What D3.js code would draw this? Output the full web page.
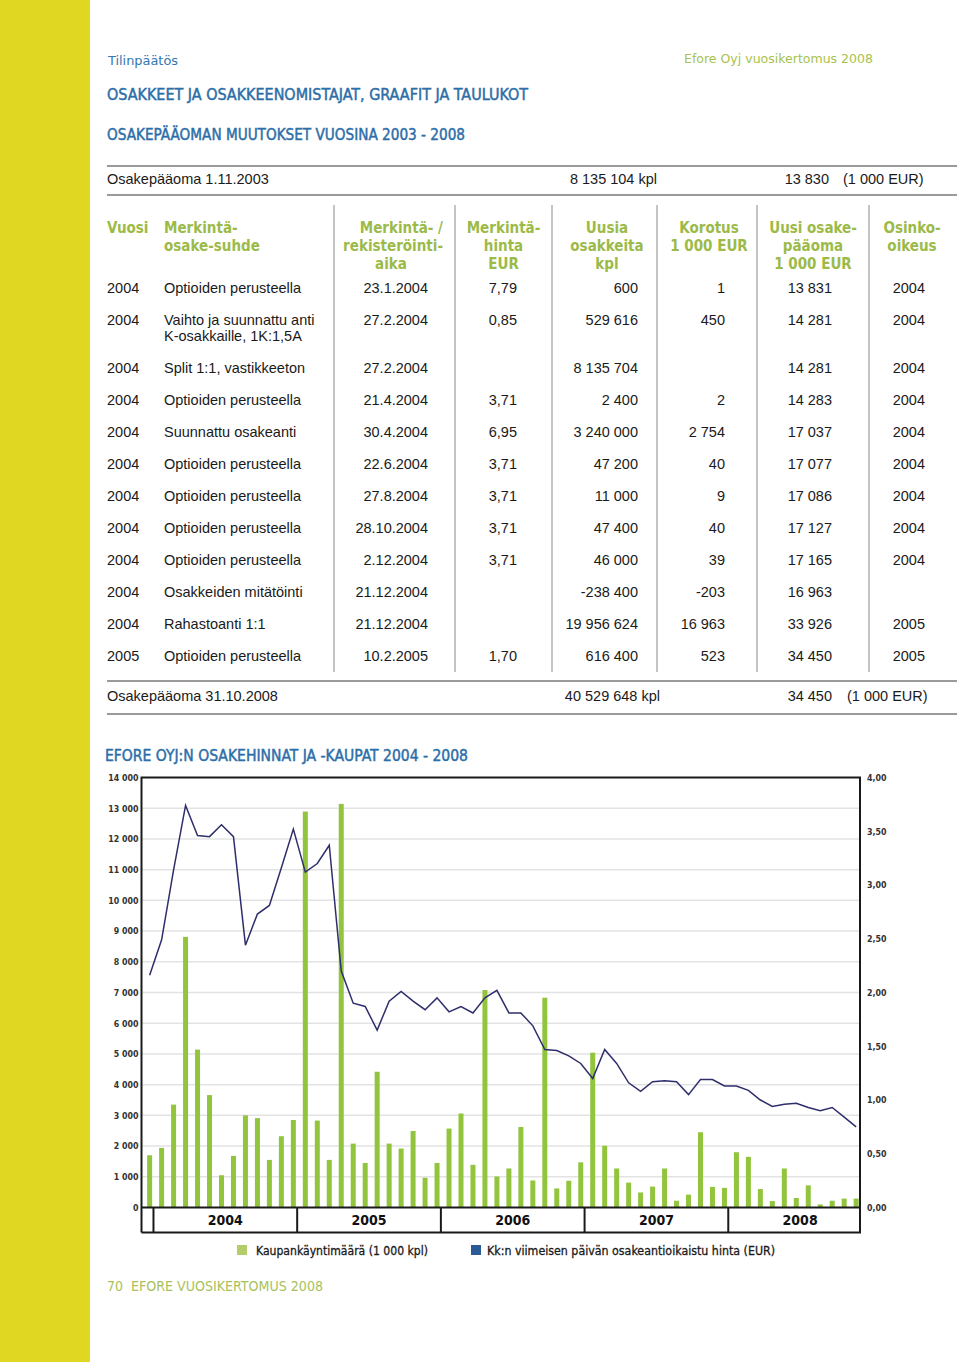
<!DOCTYPE html>
<html>
<head>
<meta charset="utf-8">
<script src="https://cdn.jsdelivr.net/npm/d3@7"></script>
<style>
  html, body { margin: 0; padding: 0; background: #fff; }
  svg { display: block; }
  .din { font-family: "DejaVu Sans Condensed", "DejaVu Sans", sans-serif; font-stretch: condensed; }
  .body { font-family: "Liberation Sans", Arial, sans-serif; }
</style>
</head>
<body>
<svg id="page" width="960" height="1362"></svg>
<script>
// ---------- DATA ----------
// Table: share capital changes 2003-2008
const colYear = ["2004","2004","2004","2004","2004","2004","2004","2004","2004","2004","2004","2005"];
const colDesc = [["Optioiden perusteella"],["Vaihto ja suunnattu anti","K-osakkaille, 1K:1,5A"],["Split 1:1, vastikkeeton"],
  ["Optioiden perusteella"],["Suunnattu osakeanti"],["Optioiden perusteella"],["Optioiden perusteella"],
  ["Optioiden perusteella"],["Optioiden perusteella"],["Osakkeiden mitätöinti"],["Rahastoanti 1:1"],["Optioiden perusteella"]];
const colDate = ["23.1.2004","27.2.2004","27.2.2004","21.4.2004","30.4.2004","22.6.2004","27.8.2004","28.10.2004","2.12.2004","21.12.2004","21.12.2004","10.2.2005"];
const colPrice = ["7,79","0,85","","3,71","6,95","3,71","3,71","3,71","3,71","","","1,70"];
const colShares = ["600","529 616","8 135 704","2 400","3 240 000","47 200","11 000","47 400","46 000","-238 400","19 956 624","616 400"];
const colIncrease = ["1","450","","2","2 754","40","9","40","39","-203","16 963","523"];
const colCapital = ["13 831","14 281","14 281","14 283","17 037","17 077","17 086","17 127","17 165","16 963","33 926","34 450"];
const colDividend = ["2004","2004","2004","2004","2004","2004","2004","2004","2004","","2005","2005"];
const headers = [["Vuosi"],["Merkintä-","osake-suhde"],["Merkintä- /","rekisteröinti-","aika"],["Merkintä-","hinta","EUR"],
  ["Uusia","osakkeita","kpl"],["Korotus","1 000 EUR"],["Uusi osake-","pääoma","1 000 EUR"],["Osinko-","oikeus"]];

// Chart: monthly trading volume (1 000 kpl) and month-end adjusted price (EUR), Dec 2003 - Nov 2008
const months = d3.timeMonth.range(new Date(2003, 11, 1), new Date(2008, 11, 1));
const volume = [1700,1940,3350,8810,5140,3660,1050,1680,3000,2910,
                1550,2320,2850,12890,2830,1550,13140,2080,1450,4420,
                2080,1920,2490,970,1450,2570,3060,1390,7080,1010,
                1270,2620,880,6830,620,870,1470,5040,2010,1270,
                810,490,680,1270,220,420,2450,670,640,1800,
                1650,600,210,1270,310,720,100,220,290,290];
const price = [2.16,2.49,3.14,3.74,3.46,3.45,3.56,3.45,2.44,2.73,
               2.81,3.16,3.52,3.12,3.20,3.37,2.20,1.90,1.87,1.65,
               1.92,2.01,1.92,1.84,1.95,1.82,1.87,1.81,1.95,2.02,
               1.81,1.81,1.69,1.47,1.46,1.41,1.34,1.20,1.47,1.34,
               1.16,1.08,1.17,1.18,1.17,1.05,1.19,1.19,1.13,1.13,
               1.09,1.00,0.94,0.96,0.97,0.93,0.90,0.93,0.84,0.75];
const years = [2004, 2005, 2006, 2007, 2008];
const leftTicks = d3.range(0, 14001, 1000);
const rightTicks = [0, 0.5, 1, 1.5, 2, 2.5, 3, 3.5, 4];
const legendLabels = ["Kaupankäyntimäärä (1 000 kpl)", "Kk:n viimeisen päivän osakeantioikaistu hinta (EUR)"];

// ---------- STYLE ----------
const BLUE = "#2c6ea8", GREEN_T = "#9cba48", BAR = "#92c43e", LINE = "#2e2e6c", TXT = "#1a1a1a";
const fi = d3.formatLocale({decimal: ",", thousands: "\u00a0", grouping: [3], currency: ["", "€"]});

const svg = d3.select("#page");
svg.append("rect").attr("x", 0).attr("y", 0).attr("width", 90).attr("height", 1362).attr("fill", "#e0d723");

function txt(x, y, s, cls, size, fill, opts = {}) {
  const t = svg.append("text").attr("class", cls).attr("x", x).attr("y", y)
    .attr("font-size", size).attr("fill", fill).attr("dominant-baseline", "central")
    .attr("text-anchor", opts.anchor || "start").text(s);
  if (opts.weight) t.attr("font-weight", opts.weight);
  if (opts.width) t.attr("textLength", opts.width).attr("lengthAdjust", "spacingAndGlyphs");
  if (opts.stroke) t.attr("stroke", fill).attr("stroke-width", opts.stroke);
  return t;
}

// page header
txt(108, 60, "Tilinpäätös", "din", 13, "#3577b0", {width: 70});
txt(684, 58, "Efore Oyj vuosikertomus 2008", "din", 13, "#a8c24c", {width: 189});
txt(107, 95, "OSAKKEET JA OSAKKEENOMISTAJAT, GRAAFIT JA TAULUKOT", "din", 15.5, BLUE, {width: 421, stroke: 0.45});
txt(107, 135, "OSAKEPÄÄOMAN MUUTOKSET VUOSINA 2003 - 2008", "din", 15.5, BLUE, {width: 358, stroke: 0.45});

// ---------- TABLE ----------
const rule = (y) => svg.append("line").attr("x1", 107).attr("x2", 957).attr("y1", y).attr("y2", y)
  .attr("stroke", "#9a9a9a").attr("stroke-width", 2);
rule(166); rule(195); rule(681); rule(714);

txt(107, 179, "Osakepääoma 1.11.2003", "body", 14.5, TXT);
txt(657, 179, "8 135 104 kpl", "body", 14.5, TXT, {anchor: "end"});
txt(829, 179, "13 830", "body", 14.5, TXT, {anchor: "end"});
txt(843, 179, "(1 000 EUR)", "body", 14.5, TXT);
txt(107, 696, "Osakepääoma 31.10.2008", "body", 14.5, TXT);
txt(660, 696, "40 529 648 kpl", "body", 14.5, TXT, {anchor: "end"});
txt(832, 696, "34 450", "body", 14.5, TXT, {anchor: "end"});
txt(847, 696, "(1 000 EUR)", "body", 14.5, TXT);

const seps = [334, 455, 552, 657, 757, 869];
seps.forEach(x => svg.append("line").attr("x1", x).attr("x2", x).attr("y1", 205).attr("y2", 672)
  .attr("stroke", "#8a8a8a").attr("stroke-width", 1));

const headX = [[107], [164, 164], [443, 443, 391], [503.5], [607], [709], [813], [912]];
const headAnchor = [["start"], ["start", "start"], ["end", "end", "middle"], ["middle"], ["middle"], ["middle"], ["middle"], ["middle"]];
headers.forEach((lines, i) => lines.forEach((s, j) =>
  txt(headX[i][j] !== undefined ? headX[i][j] : headX[i][0], 228 + j * 18, s, "din", 15, GREEN_T,
      {anchor: headAnchor[i][j] || headAnchor[i][0], weight: "bold"})));

const rowY = [288, 320, 368, 400, 432, 464, 496, 528, 560, 592, 624, 656];
const cols = [
  {data: colYear, x: 107, a: "start"},
  {data: colDate, x: 428, a: "end"},
  {data: colPrice, x: 517, a: "end"},
  {data: colShares, x: 638, a: "end"},
  {data: colIncrease, x: 725, a: "end"},
  {data: colCapital, x: 832, a: "end"},
  {data: colDividend, x: 925, a: "end"}
];
rowY.forEach((y, r) => {
  cols.forEach(c => { if (c.data[r]) txt(c.x, y, c.data[r], "body", 14.5, TXT, {anchor: c.a}); });
  colDesc[r].forEach((s, j) => txt(164, y + j * 16, s, "body", 14.5, TXT));
});

// ---------- CHART ----------
txt(105, 756, "EFORE OYJ:N OSAKEHINNAT JA -KAUPAT 2004 - 2008", "din", 15.5, BLUE, {width: 363, stroke: 0.45});

const L = 141.5, R = 860, T = 777.5, B = 1207.5;
const x = d3.scaleBand().domain(months).range([L, R]).padding(0);
const bw = x.bandwidth();
const cx = d => x(d) + bw * 0.68;
const yL = d3.scaleLinear().domain([0, 14000]).range([B, T]);
const yR = d3.scaleLinear().domain([0, 4]).range([B, T]);

// grid
svg.append("g").selectAll("line").data(leftTicks.filter(v => v > 0 && v < 14000)).join("line")
  .attr("x1", L).attr("x2", R).attr("y1", d => yL(d)).attr("y2", d => yL(d))
  .attr("stroke", "#e3e3e3").attr("stroke-width", 1.5);

// bars
svg.append("g").selectAll("rect").data(volume).join("rect")
  .attr("x", (d, i) => cx(months[i]) - 2.5).attr("width", 5)
  .attr("y", d => yL(d)).attr("height", d => B - yL(d)).attr("fill", BAR);

// line
svg.append("path").datum(price)
  .attr("d", d3.line().x((d, i) => cx(months[i])).y(d => yR(d)))
  .attr("fill", "none").attr("stroke", LINE).attr("stroke-width", 1.5).attr("stroke-linejoin", "miter");

// axes (left and right) via d3 axis, labels only
const axL = svg.append("g").attr("transform", `translate(${L},0)`)
  .call(d3.axisLeft(yL).tickValues(leftTicks).tickSize(0).tickPadding(3).tickFormat(fi.format(",")));
const axR = svg.append("g").attr("transform", `translate(${R},0)`)
  .call(d3.axisRight(yR).tickValues(rightTicks).tickSize(0).tickPadding(7).tickFormat(fi.format(",.2f")));
[axL, axR].forEach(a => {
  a.select(".domain").remove();
  a.selectAll("text").attr("class", "din").attr("font-size", 8.8).attr("font-weight", "bold").attr("fill", "#333");
});

// frame
const frame = svg.append("g").attr("stroke", "#1a1a1a").attr("stroke-width", 2).attr("fill", "none");
frame.append("path").attr("d", `M${L},${B + 25}V${T}H${R}V${B + 25}H${L}`);
frame.append("line").attr("x1", L).attr("x2", R).attr("y1", B).attr("y2", B);
// year separators in x-axis band
const yearStart = years.map(yv => months.find(m => m.getFullYear() === yv && m.getMonth() === 0));
frame.selectAll(".ysep").data(yearStart).join("line")
  .attr("x1", d => x(d)).attr("x2", d => x(d)).attr("y1", B).attr("y2", B + 25);
svg.append("g").selectAll("text").data(yearStart).join("text")
  .attr("class", "din").attr("x", d => x(d) + bw * 6).attr("y", B + 12.5)
  .attr("dominant-baseline", "central").attr("text-anchor", "middle")
  .attr("font-size", 14).attr("font-weight", "bold").attr("fill", "#111")
  .text((d, i) => years[i]);

// legend
svg.append("rect").attr("x", 237).attr("y", 1245).attr("width", 10).attr("height", 10).attr("fill", "#b4cd6a");
txt(256, 1250, legendLabels[0], "din", 13, "#1a1a1a", {width: 172, stroke: 0.3});
svg.append("rect").attr("x", 471).attr("y", 1245).attr("width", 10).attr("height", 10).attr("fill", "#2b5b97");
txt(487, 1250, legendLabels[1], "din", 13, "#1a1a1a", {width: 288, stroke: 0.3});

// footer
txt(107, 1286, "70", "din", 14, "#a9c15c");
txt(131, 1286, "EFORE VUOSIKERTOMUS 2008", "din", 14, "#a9c15c", {width: 192});
</script>
</body>
</html>
